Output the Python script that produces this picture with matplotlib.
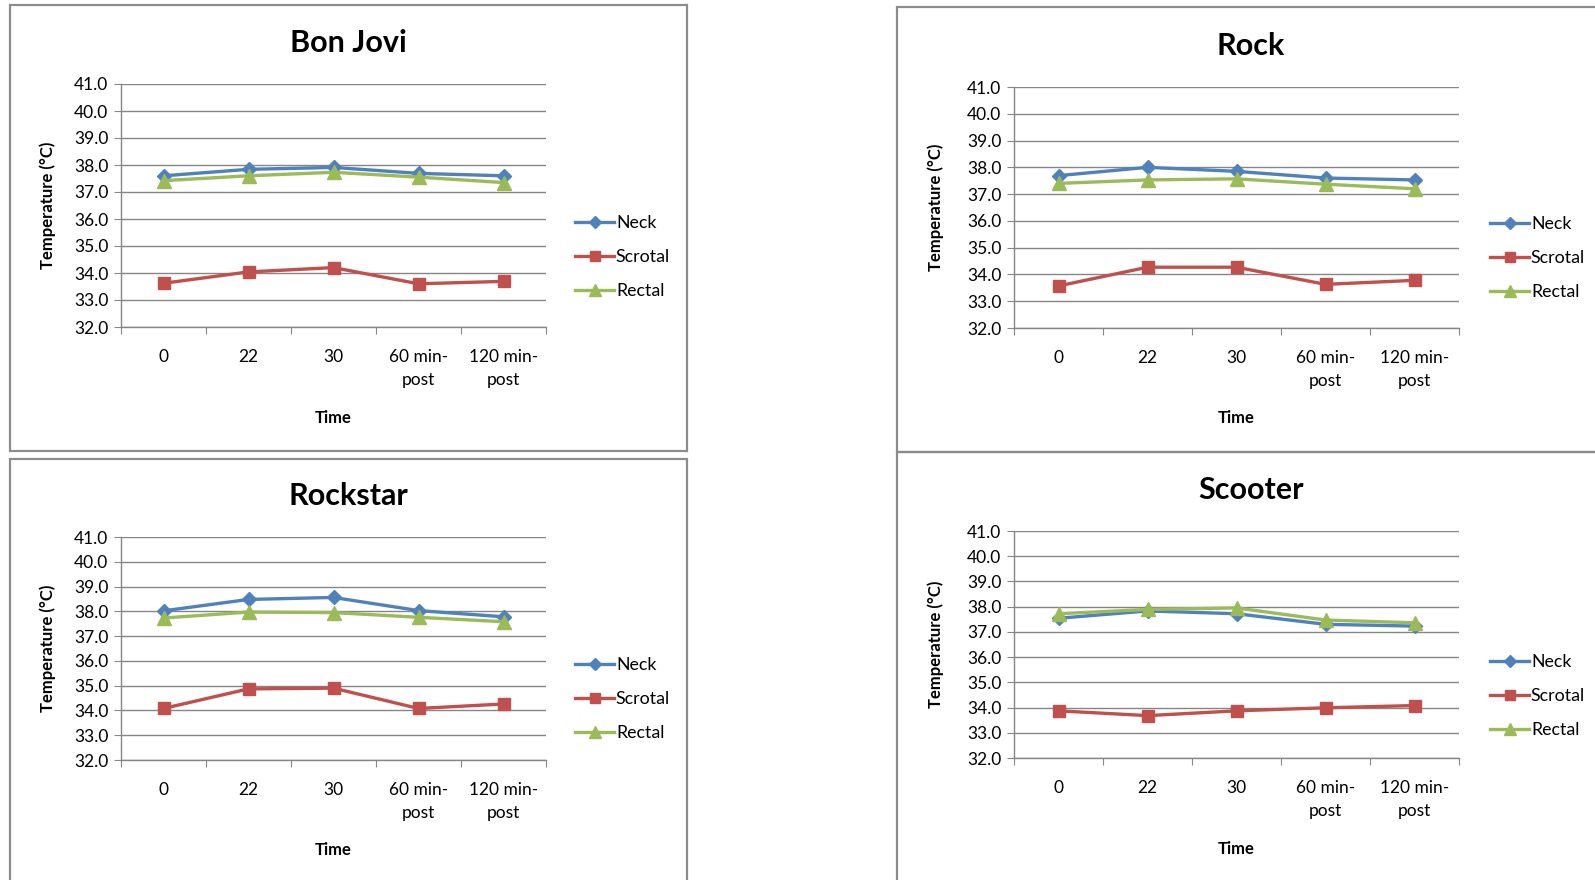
#Skin temperatures of four subjects over time
import matplotlib
matplotlib.use('Agg')
import matplotlib.pyplot as plt
from matplotlib.patches import Rectangle

plt.rcParams['font.family'] = ['Lato', 'DejaVu Sans']

time_labels = ['0', '22', '30', '60 min-\npost', '120 min-\npost']
series_names = ['Neck', 'Scrotal', 'Rectal']
panel_titles = ['Bon Jovi', 'Rock', 'Rockstar', 'Scooter']

bon_jovi_neck = [37.60, 37.84, 37.91, 37.69, 37.60]
bon_jovi_scrotal = [33.62, 34.04, 34.20, 33.60, 33.69]
bon_jovi_rectal = [37.42, 37.60, 37.73, 37.55, 37.35]

rock_neck = [37.69, 38.00, 37.85, 37.60, 37.53]
rock_scrotal = [33.57, 34.27, 34.27, 33.63, 33.78]
rock_rectal = [37.40, 37.53, 37.57, 37.37, 37.20]

rockstar_neck = [38.02, 38.48, 38.56, 38.03, 37.78]
rockstar_scrotal = [34.08, 34.87, 34.90, 34.08, 34.26]
rockstar_rectal = [37.73, 37.97, 37.95, 37.76, 37.58]

scooter_neck = [37.54, 37.83, 37.72, 37.30, 37.23]
scooter_scrotal = [33.87, 33.68, 33.87, 33.99, 34.08]
scooter_rectal = [37.72, 37.89, 37.95, 37.47, 37.36]

y_ticks = [32, 33, 34, 35, 36, 37, 38, 39, 40, 41]

W, H = 1595, 880
colors = ['#4F81BD', '#C0504D', '#9BBB59']
markers = [('D', 7.5), ('s', 9), ('^', 9.5)]
grid_grey = '#868686'
border_grey = '#8c8c8c'

# pixel layout: frame box, plot area, title/ylabel/xlabel/legend positions
panels = [
    dict(box=(9.5, 5, 687, 451), plot=(121, 84, 546, 327), title_y=43,
         ylab_x=48, xlab_y=418, leg_x=575, leg_y=257,
         data=(bon_jovi_neck, bon_jovi_scrotal, bon_jovi_rectal)),
    dict(box=(897, 7.5, 1605, 452), plot=(1014, 87, 1459, 328), title_y=46,
         ylab_x=936, xlab_y=418, leg_x=1490, leg_y=258,
         data=(rock_neck, rock_scrotal, rock_rectal)),
    dict(box=(9.5, 459, 687, 890), plot=(121, 537, 546, 760), title_y=496,
         ylab_x=48, xlab_y=850, leg_x=575, leg_y=699,
         data=(rockstar_neck, rockstar_scrotal, rockstar_rectal)),
    dict(box=(897, 452, 1605, 890), plot=(1014, 531, 1459, 758), title_y=490,
         ylab_x=936, xlab_y=849, leg_x=1490, leg_y=696,
         data=(scooter_neck, scooter_scrotal, scooter_rectal)),
]

fig = plt.figure(figsize=(W / 100, H / 100), dpi=100)


def fx(px):
    return px / W


def fy(py):
    return 1 - py / H


for title, p in zip(panel_titles, panels):
    bl, bt, br, bb = p['box']
    fig.add_artist(Rectangle((fx(bl), fy(bb)), fx(br - bl), (bb - bt) / H,
                             transform=fig.transFigure, fill=False,
                             edgecolor=border_grey, linewidth=1.6))

    l, t, r, b = p['plot']
    ax = fig.add_axes([fx(l), fy(b), fx(r - l), (b - t) / H])
    x = list(range(len(time_labels)))
    for vals, name, c, (m, ms) in zip(p['data'], series_names, colors, markers):
        ax.plot(x, vals, color=c, linewidth=2.4, marker=m, markersize=ms,
                label=name)

    ax.set_xlim(-0.5, len(time_labels) - 0.5)
    ax.set_ylim(32, 41)
    ax.set_yticks(y_ticks)
    ax.set_yticklabels(['%.1f' % v for v in y_ticks])
    ax.set_xticks([i - 0.5 for i in range(len(time_labels) + 1)])
    ax.set_xticklabels([])
    ax.set_xticks(x, minor=True)
    ax.set_xticklabels(time_labels, minor=True, linespacing=1.5)
    ax.tick_params(axis='x', which='major', length=5, color=grid_grey)
    ax.tick_params(axis='x', which='minor', length=0, pad=16, labelsize=12.5)
    ax.tick_params(axis='y', length=5, color=grid_grey, labelsize=12.5, pad=4)
    ax.grid(axis='y', color=grid_grey, linewidth=1)
    ax.set_axisbelow(True)
    for s in ['top', 'right']:
        ax.spines[s].set_visible(False)
    for s in ['left', 'bottom']:
        ax.spines[s].set_color(grid_grey)
        ax.spines[s].set_linewidth(1)

    ax.set_ylabel('Temperature (°C)', fontsize=12, fontweight='bold')
    ax.yaxis.set_label_coords((p['ylab_x'] - l) / (r - l), 0.5)
    ax.set_xlabel('Time', fontsize=12, fontweight='bold')
    ax.xaxis.set_label_coords(0.5, (b - p['xlab_y']) / (b - t))
    ax.xaxis.label.set_va('center')
    ax.yaxis.label.set_va('center')

    fig.text(fx((bl + br) / 2), fy(p['title_y']), title, fontsize=22,
             fontweight='bold', ha='center', va='center')

    ax.legend(loc='center left',
              bbox_to_anchor=((p['leg_x'] - l) / (r - l),
                              (b - p['leg_y']) / (b - t)),
              frameon=False, fontsize=12.8, borderpad=0, borderaxespad=0,
              handlelength=2.2, handletextpad=0.1, labelspacing=1.0,
              markerscale=0.85)

fig.savefig('out.png', dpi=100)
